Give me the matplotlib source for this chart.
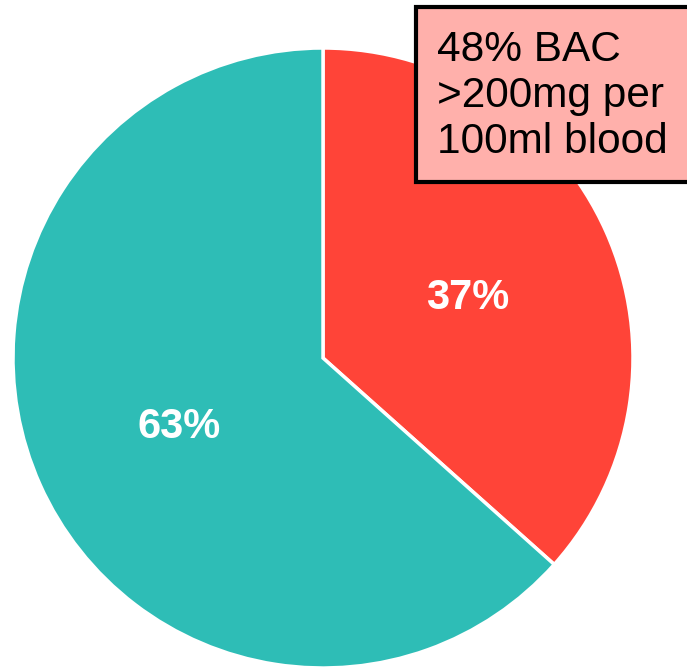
import matplotlib
matplotlib.use('Agg')
import matplotlib.pyplot as plt
from matplotlib.patches import Rectangle

# data (shares, labels round them)
labels = ['BAC >200mg', 'Other']
shares = [36.6, 63.4]
colors = ['#FF4438', '#2EBDB6']
note = '48% BAC\n>200mg per\n100ml blood'

plt.rcParams['font.family'] = ['Liberation Sans', 'DejaVu Sans']

W, H = 687, 670
fig = plt.figure(figsize=(W / 100, H / 100), dpi=100)
ax = fig.add_axes([0, 0, 1, 1])

# pie centre and radius in pixels
cx, cy, r = 323, 358, 310
wedges, texts, autotexts = ax.pie(
    shares, colors=colors, startangle=90, counterclock=False,
    autopct='%.0f%%', pctdistance=0.51,
    wedgeprops=dict(edgecolor='white', linewidth=2.5),
    textprops=dict(color='white', fontsize=30, fontweight='bold'),
)
for t in autotexts:
    t.set_verticalalignment('center_baseline')
ax.set_xlim(-cx / r, (W - cx) / r)
ax.set_ylim(-(H - cy) / r, cy / r)
ax.set_aspect('auto')
ax.axis('off')

# annotation box
fig.patches.append(Rectangle((416 / W, (H - 182) / H), (W - 416 + 20) / W, 175 / H,
                             transform=fig.transFigure, facecolor='#FFB0AB',
                             edgecolor='black', linewidth=3, zorder=5))
fig.text(437 / W, (H - 96) / H, note, fontsize=30.5, va='center', ha='left',
         color='black', zorder=6)

plt.savefig('out.png', dpi=100)
